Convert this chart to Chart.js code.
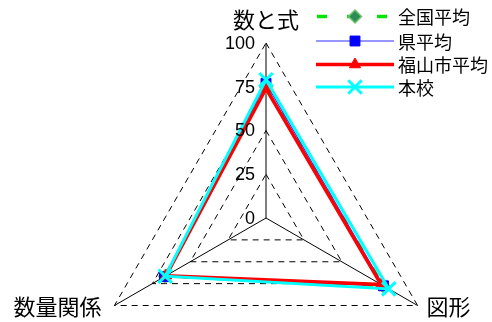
<!DOCTYPE html>
<html>
<head>
<meta charset="utf-8">
<script src="https://cdn.jsdelivr.net/npm/chart.js@4/dist/chart.umd.min.js"></script>
<style>
html,body{margin:0;padding:0;background:#fff;overflow:hidden;width:492px;height:322px;}
canvas{display:block;}
</style>
</head>
<body>
<canvas id="c" width="492" height="394"></canvas>
<script>
const categories = ['数と式', '図形', '数量関係'];
const seriesNames = ['全国平均', '県平均', '福山市平均', '本校'];
const national = [75, 77, 66.5];
const prefecture = [77, 77.5, 67];
const fukuyama = [74, 76, 66];
const school = [79, 81, 66.5];
const tickValues = [0, 25, 50, 75, 100];

const CJK = '"Noto Sans CJK JP", "Noto Sans", sans-serif';
const LAT = '"Liberation Sans", Arial, sans-serif';

const datasets = [
  { label: seriesNames[0], data: national, borderColor: '#00e600', borderWidth: 3.5, borderDash: [10, 20],
    pointStyle: 'rectRot', pointRadius: 6.5, pointBackgroundColor: '#2e8b57', pointBorderColor: '#6cc46c', pointBorderWidth: 1.5, order: 3 },
  { label: seriesNames[1], data: prefecture, borderColor: '#3030ff', borderWidth: 1.2,
    pointStyle: 'rect', pointRadius: 7, pointBackgroundColor: '#0000ff', pointBorderColor: '#0000ff', pointBorderWidth: 1, order: 2 },
  { label: seriesNames[2], data: fukuyama, borderColor: '#ff0000', borderWidth: 3.5,
    pointStyle: 'triangle', pointRadius: 6.5, pointBackgroundColor: '#ff0000', pointBorderColor: '#ff0000', pointBorderWidth: 1, order: 1 },
  { label: seriesNames[3], data: school, borderColor: '#00ffff', borderWidth: 3,
    pointStyle: 'crossRot', pointRadius: 9.5, pointBackgroundColor: '#00ffff', pointBorderColor: '#00ffff', pointBorderWidth: 3, order: 0 }
];
datasets.forEach(d => { d.fill = false; d.tension = 0; });

const overlay = {
  id: 'overlay',
  afterDraw(chart) {
    const ctx = chart.ctx;
    const s = chart.scales.r;
    ctx.save();
    ctx.fillStyle = '#000';
    // tick labels
    ctx.font = '18px ' + LAT;
    ctx.textAlign = 'right';
    ctx.textBaseline = 'middle';
    s.ticks.forEach(t => {
      const y = s.yCenter - s.getDistanceFromCenterForValue(t.value);
      ctx.fillText(String(t.value), s.xCenter - 11, y + 1);
    });
    // axis labels
    ctx.font = '22px ' + CJK;
    categories.forEach((c, i) => {
      const p = s.getPointPosition(i, s.drawingArea);
      if (i === 0) {
        ctx.textAlign = 'center'; ctx.textBaseline = 'middle';
        ctx.fillText(c, p.x, p.y - 23);
      } else if (p.x > s.xCenter) {
        ctx.textAlign = 'left'; ctx.textBaseline = 'middle';
        ctx.fillText(c, p.x + 9, p.y + 1);
      } else {
        ctx.textAlign = 'right'; ctx.textBaseline = 'middle';
        ctx.fillText(c, p.x - 13, p.y + 1);
      }
    });
    // legend
    const rowY = [16.5, 41, 64.5, 87];
    const x0 = 316, x1 = 394, xm = 355, xt = 398;
    chart.data.datasets.forEach((d, i) => {
      const y = rowY[i];
      ctx.save();
      ctx.strokeStyle = d.borderColor;
      ctx.lineWidth = d.borderWidth;
      ctx.setLineDash(d.borderDash || []);
      ctx.beginPath();
      ctx.moveTo(d.borderDash ? x0 + 1 : x0, y); ctx.lineTo(x1, y);
      ctx.stroke();
      ctx.setLineDash([]);
      ctx.fillStyle = d.pointBackgroundColor;
      ctx.strokeStyle = d.pointBorderColor;
      ctx.lineWidth = d.pointBorderWidth;
      Chart.helpers.drawPoint(ctx, { pointStyle: d.pointStyle, radius: d.pointRadius, rotation: 0, borderWidth: d.pointBorderWidth }, xm, y);
      ctx.restore();
      ctx.fillStyle = '#000';
      ctx.font = '18px ' + CJK;
      ctx.textAlign = 'left'; ctx.textBaseline = 'middle';
      ctx.fillText(d.label, xt, y + 1);
    });
    ctx.restore();
  }
};

new Chart(document.getElementById('c'), {
  type: 'radar',
  data: { labels: categories, datasets: datasets },
  options: {
    responsive: false,
    devicePixelRatio: 1,
    animation: false,
    layout: { padding: { top: 43, bottom: 1, left: 40, right: 0 } },
    plugins: { legend: { display: false }, tooltip: { enabled: false } },
    elements: { line: { tension: 0 } },
    scales: {
      r: {
        min: 0, max: 100,
        beginAtZero: true,
        afterBuildTicks(scale) { scale.ticks = tickValues.map(v => ({ value: v })); },
        ticks: { display: false, stepSize: 25 },
        pointLabels: { display: false },
        grid: { color: '#000', lineWidth: 1, circular: false },
        border: { dash: [6, 5] },
        angleLines: { display: true, color: '#000', lineWidth: 1 }
      }
    }
  },
  plugins: [overlay]
});
</script>
</body>
</html>
